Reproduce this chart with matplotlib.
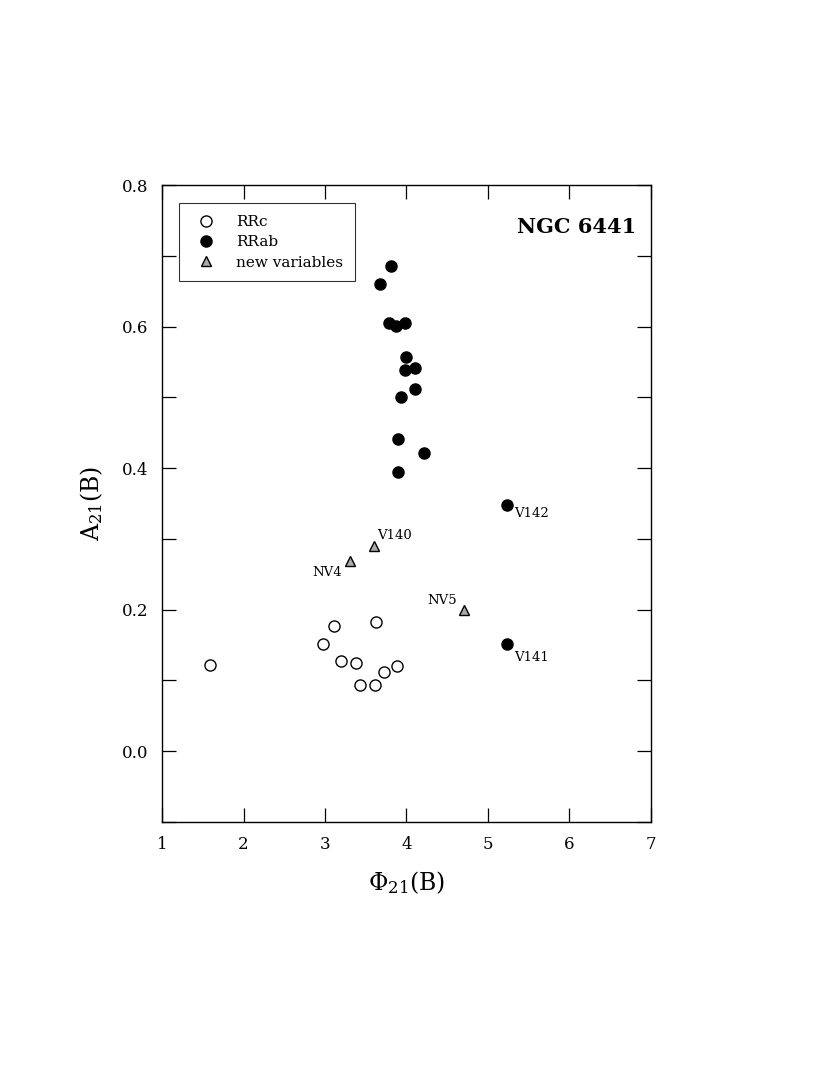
import matplotlib
matplotlib.use("Agg")
import matplotlib.pyplot as plt
from matplotlib.ticker import MultipleLocator

plt.rcParams['font.family'] = ['DejaVu Serif']
plt.rcParams['mathtext.fontset'] = 'dejavuserif'

# RRc (open circles)
rrc_phi = [1.59, 3.11, 3.62, 2.98, 3.20, 3.38, 3.88, 3.73, 3.43, 3.61]
rrc_amp = [0.122, 0.177, 0.182, 0.152, 0.128, 0.125, 0.121, 0.112, 0.093, 0.094]

# RRab (filled circles)
rrab_phi = [3.81, 3.67, 3.78, 3.87, 3.98, 4.00, 3.98, 4.11, 4.10, 3.93, 3.89, 4.22, 3.89, 5.23, 5.23]
rrab_amp = [0.685, 0.660, 0.605, 0.601, 0.605, 0.557, 0.539, 0.542, 0.512, 0.501, 0.441, 0.422, 0.395, 0.348, 0.151]

# new variables (triangles)
nv_phi = [3.60, 3.31, 4.70]
nv_amp = [0.290, 0.269, 0.200]

# labels: text, x, y, horizontal alignment
lab_text = ['V142', 'V141', 'V140', 'NV4', 'NV5']
lab_x = [5.32, 5.32, 3.635, 3.21, 4.62]
lab_y = [0.336, 0.132, 0.305, 0.252, 0.213]
lab_ha = ['left', 'left', 'left', 'right', 'right']

fig = plt.figure(figsize=(8.3, 10.75), dpi=100)
ax = fig.add_axes([0.1952, 0.2353, 0.5891, 0.5926])

ax.plot(rrc_phi, rrc_amp, 'o', ms=8, mfc='white', mec='black', mew=1.0, ls='none', label='RRc')
ax.plot(rrab_phi, rrab_amp, 'o', ms=8, mfc='black', mec='black', ls='none', label='RRab')
ax.plot(nv_phi, nv_amp, '^', ms=7.5, mfc='#aaaaaa', mec='black', mew=1.0, ls='none', label='new variables')

for t, x, y, ha in zip(lab_text, lab_x, lab_y, lab_ha):
    ax.text(x, y, t, ha=ha, va='center', fontsize=9.5)

ax.text(0.97, 0.934, 'NGC 6441', transform=ax.transAxes, ha='right', va='center',
        fontsize=15, fontweight='bold')

ax.set_xlim(1, 7)
ax.set_ylim(-0.1, 0.8)
ax.xaxis.set_major_locator(MultipleLocator(1))
ax.yaxis.set_major_locator(MultipleLocator(0.2))
ax.yaxis.set_minor_locator(MultipleLocator(0.1))
ax.yaxis.set_major_formatter(plt.FuncFormatter(lambda v, p: '%.1f' % v))
ax.tick_params(which='both', direction='in', top=True, right=True, length=10, width=0.9,
               labelsize=12, pad=10)
for s in ax.spines.values():
    s.set_linewidth(1.0)

ax.set_xlabel('Φ$_{21}$(B)', fontsize=17, labelpad=12)
ax.set_ylabel('A$_{21}$(B)', fontsize=17, labelpad=12)

leg = ax.legend(loc='upper left', bbox_to_anchor=(0.035, 0.971), fontsize=11,
                frameon=True, fancybox=False, edgecolor='black', handletextpad=1.0,
                borderpad=0.75, labelspacing=0.42, numpoints=1, borderaxespad=0)
leg.get_frame().set_linewidth(0.8)

fig.savefig('out.png', dpi=100)
